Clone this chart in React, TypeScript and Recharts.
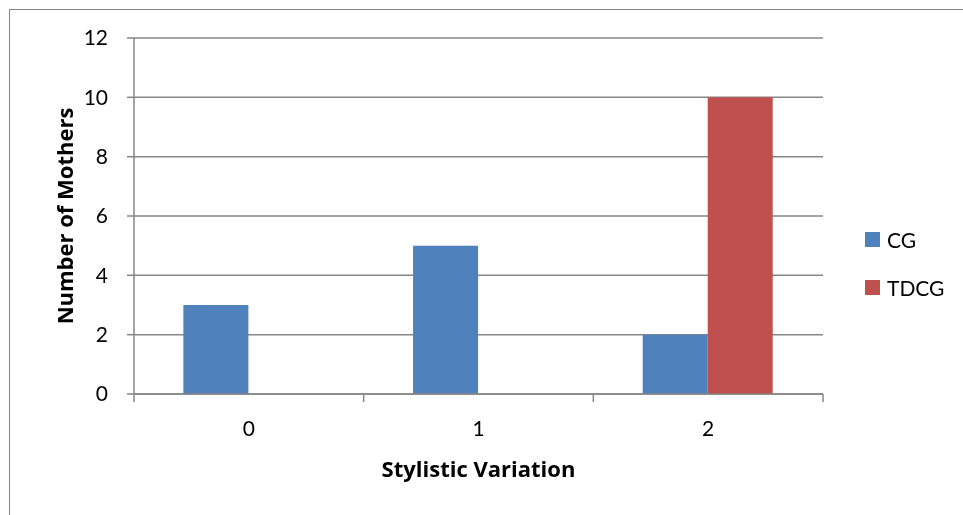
import { BarChart, Bar, XAxis, YAxis, CartesianGrid, Legend } from 'recharts';

const categories = ['0', '1', '2'];
const cgValues = [3, 5, 2];
const tdcgValues = [0, 0, 10];
const yTicks = [0, 2, 4, 6, 8, 10, 12];

const chartData = categories.map((c, i) => ({ name: c, CG: cgValues[i], TDCG: tdcgValues[i] }));

const FONT = 'Lato, "Noto Sans", sans-serif';
const TITLE_FONT = '"Open Sans", "Noto Sans", sans-serif';
const GRAY = '#868686';
const TICK_SIZE = 8;
const TICK_MARGIN = 19;

// category labels in the middle, tick marks on the category boundaries (Excel style)
function XTick(props: any) {
  const { x, y, payload, index, visibleTicksCount } = props;
  const half = payload.offset || 0;
  const axisY = y - TICK_SIZE - TICK_MARGIN;
  const isLast = index === visibleTicksCount - 1;
  return (
    <g>
      <line x1={x - half} x2={x - half} y1={axisY} y2={axisY + TICK_SIZE} stroke={GRAY} strokeWidth={1.5} />
      {isLast && (
        <line x1={x + half} x2={x + half} y1={axisY} y2={axisY + TICK_SIZE} stroke={GRAY} strokeWidth={1.5} />
      )}
      <text x={x} y={y} dy="0.71em" textAnchor="middle" fill="#000" fontSize={21} fontFamily={FONT}>
        {payload.value}
      </text>
    </g>
  );
}

function LegendBox({ payload }: any) {
  return (
    <div style={{ fontFamily: FONT, fontSize: 21, color: '#000' }}>
      {(payload || []).map((p: any) => (
        <div key={p.value} style={{ display: 'flex', alignItems: 'center', height: 24, marginBottom: 24 }}>
          <span style={{ display: 'inline-block', width: 15, height: 15, background: p.color, marginRight: 7 }} />
          <span>{p.value}</span>
        </div>
      ))}
    </div>
  );
}

export default function App() {
  return (
    <div style={{ position: 'relative', width: 947, height: 499 }}>
      {/* outer chart frame, runs off the right and bottom of the window */}
      <div
        style={{
          position: 'fixed',
          left: 9,
          top: 9,
          width: 2000,
          height: 2000,
          borderTop: `1.5px solid ${GRAY}`,
          borderLeft: `1.5px solid ${GRAY}`,
          pointerEvents: 'none',
        }}
      />
      <BarChart
        width={947}
        height={499}
        data={chartData}
        margin={{ top: 30, right: 132, left: 6, bottom: 23 }}
        barCategoryGap="21.5%"
        barGap={0}
      >
        <CartesianGrid vertical={false} stroke={GRAY} strokeWidth={1.5} />
        <XAxis
          dataKey="name"
          height={90}
          axisLine={{ stroke: GRAY, strokeWidth: 1.5 }}
          tickLine={false}
          tickSize={TICK_SIZE}
          tickMargin={TICK_MARGIN}
          tick={<XTick />}
          label={{
            value: 'Stylistic Variation',
            position: 'insideBottom',
            offset: 7,
            fill: '#000',
            fontSize: 22,
            fontWeight: 700,
            fontFamily: TITLE_FONT,
          }}
        />
        <YAxis
          width={120}
          domain={[0, 12]}
          ticks={yTicks}
          interval={0}
          axisLine={{ stroke: GRAY, strokeWidth: 1.5 }}
          tickLine={{ stroke: GRAY, strokeWidth: 1.5 }}
          tickSize={7}
          tickMargin={19}
          tick={{ fill: '#000', fontSize: 21, fontFamily: FONT }}
          label={{
            value: 'Number of Mothers',
            angle: -90,
            position: 'insideLeft',
            offset: 51,
            fill: '#000',
            fontSize: 22,
            fontWeight: 700,
            fontFamily: TITLE_FONT,
            style: { textAnchor: 'middle' },
          }}
        />
        <Legend
          layout="horizontal"
          verticalAlign="middle"
          align="center"
          content={<LegendBox />}
          wrapperStyle={{ left: 857, top: 219, width: 'auto' }}
        />
        <Bar dataKey="CG" name="CG" fill="#4F81BD" isAnimationActive={false} />
        <Bar dataKey="TDCG" name="TDCG" fill="#C0504D" isAnimationActive={false} />
      </BarChart>
    </div>
  );
}
